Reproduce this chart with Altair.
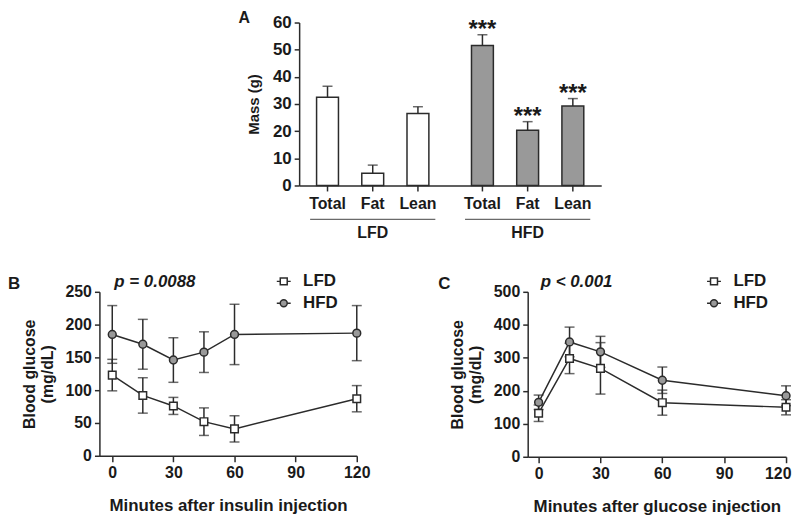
import altair as alt
import pandas as pd

# ---------------- data ----------------
# Panel A: body composition
components = ["Total", "Fat", "Lean"]
groups = ["LFD", "HFD"]
lfd_mass = [32.5, 4.5, 26.5]
lfd_mass_err = [4.0, 3.0, 2.5]
hfd_mass = [51.5, 20.3, 29.3]
hfd_mass_err = [4.0, 3.2, 2.7]
hfd_sig = ["***", "***", "***"]

# Panel B: insulin tolerance test
itt_time = [0, 15, 30, 45, 60, 120]
itt_lfd = [123, 92, 76, 52, 41, 87]
itt_lfd_err = [24, 27, 13, 21, 20, 20]
itt_hfd = [185, 170, 146, 158, 185, 187]
itt_hfd_err = [44, 38, 34, 31, 46, 42]

# Panel C: glucose tolerance test
gtt_time = [0, 15, 30, 60, 120]
gtt_lfd = [132, 298, 268, 164, 150]
gtt_lfd_err = [25, 46, 78, 38, 23]
gtt_hfd = [165, 348, 318, 232, 185]
gtt_hfd_err = [22, 45, 47, 40, 30]

x_ticks = [0, 30, 60, 90, 120]

# ---------------- style ----------------
FONT = "Liberation Sans"
TXT = "#1a1a1a"
LINE = "#2b2b2b"
GRAY = "#999999"
SQ_PATH = "M-1,0H-0.5M0.5,0H1M-0.5,-0.5H0.5V0.5H-0.5Z"
CI_PATH = "M-1,0H-0.5M0.5,0H1M-0.5,0A0.5,0.5,0,1,0,0.5,0A0.5,0.5,0,1,0,-0.5,0Z"


def panel_letter(letter, dx, dy, size):
    return alt.Chart(pd.DataFrame({"letter": [letter]})).mark_text(
        font=FONT, fontSize=size, fontWeight="bold", color=TXT,
        align="left", baseline="alphabetic").encode(
        x=alt.value(dx), y=alt.value(dy), text="letter:N")


# ---------------- panel A ----------------
dfA = pd.DataFrame({
    "group": ["LFD"] * 3 + ["HFD"] * 3,
    "comp": components * 2,
    "mean": lfd_mass + hfd_mass,
    "err": lfd_mass_err + hfd_mass_err,
    "sig": [""] * 3 + hfd_sig,
})
dfA["upper"] = dfA["mean"] + dfA["err"]
dfG = pd.DataFrame({"group": groups})

WA, HA = 304, 164
xA = alt.X("group:N", sort=groups,
           scale=alt.Scale(paddingInner=0.1, paddingOuter=0.025),
           axis=alt.Axis(title=None, ticks=False, labelPadding=39, labelAngle=0,
                         labelFontSize=16))
xoA = alt.XOffset("comp:N", sort=components,
                  scale=alt.Scale(paddingInner=0.516, paddingOuter=0.3))
scaleYA = alt.Scale(domain=[0, 60], nice=False)
axisYA = alt.Axis(title="Mass (g)", values=[0, 10, 20, 30, 40, 50, 60],
                  tickSize=5, labelPadding=3, titlePadding=11, titleFontSize=15,
                  labelFontSize=17)


def yA(field):
    return alt.Y(field, scale=scaleYA, axis=axisYA)


baseA = alt.Chart(dfA)
bars = baseA.mark_bar(stroke=LINE, strokeWidth=1.5).encode(
    x=xA, xOffset=xoA, y=yA("mean:Q"),
    fill=alt.Fill("group:N", scale=alt.Scale(domain=groups, range=["white", GRAY]), legend=None),
)
errA = baseA.mark_rule(color=LINE, strokeWidth=1.5).encode(
    x=xA, xOffset=xoA, y=yA("mean:Q"), y2="upper:Q")
capA = baseA.mark_tick(orient="horizontal", size=10, thickness=1.5, color=LINE).encode(
    x=xA, xOffset=xoA, y=yA("upper:Q"))
stars = baseA.mark_text(font=FONT, fontSize=24, fontWeight="bold", color=TXT,
                        baseline="alphabetic", dy=2).encode(
    x=xA, xOffset=xoA, y=yA("upper:Q"), text="sig:N")
compLab = baseA.mark_text(font=FONT, fontSize=16, fontWeight="bold", color=TXT,
                          baseline="middle").encode(
    x=xA, xOffset=xoA, y=alt.value(HA + 19), text="comp:N")
barTicks = baseA.mark_rule(color=LINE, strokeWidth=1.5).encode(
    x=xA, xOffset=xoA, y=alt.value(HA), y2=alt.value(HA + 6))
gLines = alt.Chart(dfG).mark_tick(orient="horizontal", size=126, thickness=1.3,
                                  color=LINE).encode(x=xA, y=alt.value(HA + 34))

panelA = alt.layer(bars, errA, capA, stars, compLab, barTicks, gLines,
                   panel_letter("A", -61, 0, 16)).properties(width=WA, height=HA)

spacer = alt.Chart(pd.DataFrame({"v": [0]})).mark_point(opacity=0).encode(
    x=alt.X("v:Q", axis=None), y=alt.Y("v:Q", axis=None)).properties(width=140, height=10)


# ---------------- panels B & C ----------------
def curve_panel(times, lfd, lfd_err, hfd, hfd_err, ymax, ystep, xmin, xtitle,
                ptext, ptext_y, letter, letter_dx, lx, ly, width, height, flush):
    df = pd.DataFrame({
        "time": times * 2,
        "series": ["LFD"] * len(times) + ["HFD"] * len(times),
        "mean": lfd + hfd,
        "err": lfd_err + hfd_err,
    })
    df["lo"] = df["mean"] - df["err"]
    df["hi"] = df["mean"] + df["err"]
    xs = alt.Scale(domain=[xmin, 120], nice=False, zero=False)
    axx = alt.Axis(values=x_ticks, title=xtitle, tickSize=6, labelPadding=3,
                   labelFlush=flush, labelFlushOffset=5 if flush else 0,
                   titlePadding=17, titleFontSize=17, labelFontSize=16)
    ys = alt.Scale(domain=[0, ymax], nice=False)
    axy = alt.Axis(values=list(range(0, ymax + 1, ystep)),
                   title=["Blood glucose", "(mg/dL)"], tickSize=5, labelPadding=3,
                   titlePadding=10, titleFontSize=16, labelFontSize=16)
    x = alt.X("time:Q", scale=xs, axis=axx)

    def y(field):
        return alt.Y(field, scale=ys, axis=axy)

    base = alt.Chart(df)
    err = base.mark_rule(color=LINE, strokeWidth=1.5).encode(x=x, y=y("lo:Q"), y2="hi:Q")
    capT = base.mark_tick(orient="horizontal", size=10, thickness=1.5, color=LINE).encode(
        x=x, y=y("hi:Q"))
    capB = base.mark_tick(orient="horizontal", size=10, thickness=1.5, color=LINE).encode(
        x=x, y=y("lo:Q"))
    line = base.mark_line(color=LINE, strokeWidth=1.5).encode(
        x=x, y=y("mean:Q"), detail="series:N")
    pL = base.transform_filter(alt.datum.series == "LFD").mark_point(
        shape="square", filled=True, fill="white", stroke=LINE, strokeWidth=1.5,
        size=58, opacity=1).encode(x=x, y=y("mean:Q"))
    pH = base.transform_filter(alt.datum.series == "HFD").mark_point(
        shape="circle", filled=True, fill=GRAY, stroke=LINE, strokeWidth=1.5,
        size=62, opacity=1).encode(x=x, y=y("mean:Q"))
    leg = alt.Legend(title=None, orient="none", legendX=lx, legendY=ly,
                     labelFont=FONT, labelFontSize=17, labelFontWeight="bold",
                     labelColor=TXT, symbolSize=196, symbolStrokeWidth=1.5,
                     symbolOpacity=1, labelOffset=11, rowPadding=4, padding=0)
    legLayer = base.mark_point(size=0, strokeWidth=1.5).encode(
        x=x, y=y("mean:Q"),
        shape=alt.Shape("series:N", sort=["LFD", "HFD"],
                        scale=alt.Scale(domain=["LFD", "HFD"], range=[SQ_PATH, CI_PATH]),
                        legend=leg),
        fill=alt.Fill("series:N", sort=["LFD", "HFD"],
                      scale=alt.Scale(domain=["LFD", "HFD"], range=["white", GRAY]),
                      legend=leg),
        stroke=alt.Stroke("series:N", sort=["LFD", "HFD"],
                          scale=alt.Scale(domain=["LFD", "HFD"], range=[LINE, LINE]),
                          legend=leg),
    )
    ptxt = alt.Chart(pd.DataFrame({"label": [ptext]})).mark_text(
        font=FONT, fontSize=17, fontWeight="bold", fontStyle="italic", color=TXT,
        align="left", baseline="middle").encode(
        x=alt.X(datum=1, scale=xs, axis=axx),
        y=alt.Y(datum=ptext_y, scale=ys, axis=axy),
        text="label:N")
    return alt.layer(err, capT, capB, line, pL, pH, legLayer, ptxt,
                     panel_letter(letter, letter_dx, -3, 17)).properties(
        width=width, height=height)


panelB = curve_panel(itt_time, itt_lfd, itt_lfd_err, itt_hfd, itt_hfd_err, 250, 50, -6.3,
                     "Minutes after insulin injection", "p = 0.0088", 265, "B", -92,
                     177, -19, 259, 165, False)
panelC = curve_panel(gtt_time, gtt_lfd, gtt_lfd_err, gtt_hfd, gtt_hfd_err, 500, 100, -5.3,
                     "Minutes after glucose injection", "p < 0.001", 530, "C", -90,
                     179, -19, 260, 166, True)

rowA = alt.hconcat(spacer, panelA, spacing=0)
rowBC = alt.hconcat(panelB, panelC, spacing=68).resolve_scale(
    x="independent", y="independent", shape="independent", fill="independent",
    stroke="independent")

chart = alt.vconcat(rowA, rowBC, spacing=33, padding=0,
                    background="white").configure_axis(
    labelFont=FONT, titleFont=FONT, labelFontWeight="bold", titleFontWeight="bold",
    labelColor=TXT, titleColor=TXT, domainColor=LINE, tickColor=LINE,
    domainWidth=1.5, tickWidth=1.5, grid=False,
).configure_view(stroke=None).configure_legend(labelFont=FONT)

chart.save("out.html", embed_options={"renderer": "svg", "actions": False})
